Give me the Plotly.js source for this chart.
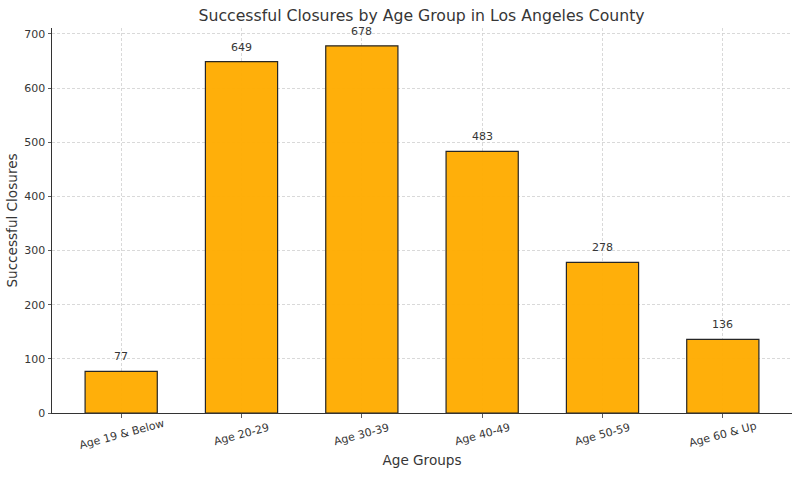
<!DOCTYPE html>
<html>
<head>
<meta charset="utf-8">
<script src="https://cdn.plot.ly/plotly-3.0.1.min.js"></script>
<style>html,body{margin:0;padding:0;background:#fff;}#chart{width:800px;height:477px;}</style>
</head>
<body>
<div id="chart"></div>
<script>
const categories = ["Age 19 & Below", "Age 20-29", "Age 30-39", "Age 40-49", "Age 50-59", "Age 60 & Up"];
const closures = [77, 649, 678, 483, 278, 136];
const yTicks = [0, 100, 200, 300, 400, 500, 600, 700];

const FONT = "DejaVu Sans, sans-serif";
const TXT = "#363636";
const xIdx = categories.map((c, i) => i);

const trace = {
  type: "bar",
  x: xIdx,
  y: closures,
  width: 0.6,
  marker: { color: "rgba(255,172,0,0.96)", line: { color: "#262626", width: 1.2 } },
  hoverinfo: "x+y"
};

const annotations = [];
closures.forEach((v, i) => {
  annotations.push({
    x: i, y: v, xref: "x", yref: "y", text: String(v), showarrow: false,
    yanchor: "bottom", yshift: 6, font: { family: FONT, size: 11, color: TXT }
  });
});
categories.forEach((c, i) => {
  annotations.push({
    x: i, y: 0, xref: "x", yref: "paper", text: c, showarrow: false,
    textangle: -15, yanchor: "middle", xanchor: "center", yshift: -21,
    font: { family: FONT, size: 11, color: TXT }
  });
});

const layout = {
  width: 800, height: 477,
  margin: { l: 52, r: 8, t: 28, b: 64 },
  paper_bgcolor: "#fff", plot_bgcolor: "#fff",
  font: { family: FONT, color: TXT },
  showlegend: false,
  bargap: 0,
  title: { text: "Successful Closures by Age Group in Los Angeles County",
           font: { family: FONT, size: 15.7, color: TXT }, x: 0.527, xanchor: "center", y: 0.968, yanchor: "middle" },
  xaxis: {
    range: [-0.575, 5.575],
    tickmode: "array", tickvals: xIdx, ticktext: categories,
    showticklabels: false,
    ticks: "outside", ticklen: 3.5, tickwidth: 0.8, tickcolor: "#333",
    showline: true, linecolor: "#333", linewidth: 1,
    showgrid: true, gridcolor: "#cfcfcf", gridwidth: 0.8, griddash: "3px,2px",
    zeroline: false, fixedrange: true,
    title: { text: "Age Groups", font: { family: FONT, size: 13.6, color: TXT }, standoff: 38 }
  },
  yaxis: {
    range: [0, 711],
    tickmode: "array", tickvals: yTicks, ticktext: yTicks.map(String),
    ticks: "outside", ticklen: 3.5, tickwidth: 0.8, tickcolor: "#333",
    tickfont: { family: FONT, size: 11, color: TXT },
    showline: true, linecolor: "#333", linewidth: 1,
    showgrid: true, gridcolor: "#cfcfcf", gridwidth: 0.8, griddash: "3px,2px",
    zeroline: false, fixedrange: true,
    title: { text: "Successful Closures", font: { family: FONT, size: 13.6, color: TXT }, standoff: 3 }
  },
  annotations: annotations
};

Plotly.newPlot("chart", [trace], layout, { displayModeBar: false, staticPlot: true });
</script>
</body>
</html>
